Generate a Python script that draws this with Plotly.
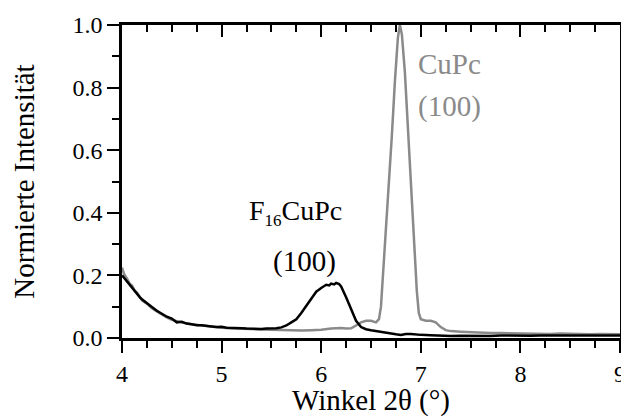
import plotly.graph_objects as go

# F16CuPc (black)
x_f16 = [4.00, 4.03, 4.05, 4.08, 4.10, 4.13, 4.15, 4.18, 4.20, 4.23, 4.25, 4.28, 4.30, 4.35, 4.40,
         4.45, 4.50, 4.55, 4.60, 4.65, 4.70, 4.75, 4.80, 4.85, 4.90, 4.95, 5.00, 5.05, 5.10,
         5.15, 5.20, 5.25, 5.30, 5.35, 5.40, 5.45, 5.50, 5.55, 5.60, 5.65, 5.70, 5.75, 5.80,
         5.85, 5.90, 5.95, 6.00, 6.03, 6.05, 6.08, 6.10, 6.13, 6.15, 6.18, 6.20, 6.25, 6.30,
         6.35, 6.40, 6.45, 6.50, 6.55, 6.60, 6.65, 6.70, 6.75, 6.80, 6.85, 6.90, 6.95, 7.00,
         7.10, 7.20, 7.30, 7.40, 7.50, 7.60, 7.70, 7.80, 7.90, 8.00, 8.10, 8.20, 8.30, 8.40,
         8.50, 8.60, 8.70, 8.80, 8.90, 9.00]
y_f16 = [0.200, 0.188, 0.182, 0.168, 0.162, 0.148, 0.142, 0.130, 0.124, 0.116, 0.110, 0.104, 0.099, 0.087, 0.078,
         0.068, 0.062, 0.050, 0.052, 0.046, 0.044, 0.041, 0.041, 0.038, 0.037, 0.035, 0.036, 0.033, 0.033,
         0.031, 0.031, 0.030, 0.029, 0.030, 0.029, 0.030, 0.030, 0.031, 0.034, 0.040, 0.050, 0.060, 0.080,
         0.103, 0.128, 0.148, 0.160, 0.166, 0.170, 0.168, 0.174, 0.171, 0.176, 0.172, 0.165, 0.130, 0.090,
         0.055, 0.035, 0.028, 0.025, 0.022, 0.020, 0.017, 0.015, 0.012, 0.010, 0.013, 0.013, 0.011, 0.010,
         0.009, 0.007, 0.006, 0.007, 0.006, 0.007, 0.006, 0.008, 0.007, 0.008, 0.007, 0.008, 0.008, 0.007,
         0.008, 0.009, 0.008, 0.008, 0.009, 0.008]

# CuPc (grey)
x_cupc = [4.00, 4.02, 4.05, 4.08, 4.10, 4.13, 4.15, 4.18, 4.20, 4.25, 4.30, 4.35, 4.40, 4.45, 4.50,
          4.55, 4.60, 4.65, 4.70, 4.75, 4.80, 4.85, 4.90, 4.95, 5.00, 5.10, 5.20, 5.30, 5.40,
          5.50, 5.60, 5.70, 5.80, 5.90, 6.00, 6.10, 6.20, 6.25, 6.30, 6.35, 6.40, 6.45, 6.50,
          6.55, 6.58, 6.60, 6.62, 6.65, 6.68, 6.71, 6.74, 6.77, 6.79, 6.81, 6.84, 6.87, 6.90,
          6.93, 6.96, 6.98, 7.00, 7.05, 7.10, 7.15, 7.20, 7.25, 7.30, 7.40, 7.50, 7.60, 7.70,
          7.80, 7.90, 8.00, 8.10, 8.20, 8.30, 8.40, 8.50, 8.60, 8.70, 8.80, 8.90, 9.00]
y_cupc = [0.225, 0.205, 0.190, 0.172, 0.168, 0.150, 0.145, 0.128, 0.120, 0.110, 0.095, 0.085, 0.075, 0.066, 0.058,
          0.054, 0.048, 0.046, 0.044, 0.042, 0.040, 0.038, 0.036, 0.035, 0.033, 0.031, 0.029, 0.027, 0.027,
          0.026, 0.025, 0.024, 0.024, 0.025, 0.026, 0.030, 0.032, 0.030, 0.031, 0.040, 0.050, 0.055, 0.055,
          0.050, 0.060, 0.100, 0.200, 0.330, 0.480, 0.650, 0.820, 0.960, 1.000, 0.970, 0.850, 0.680, 0.480,
          0.300, 0.150, 0.080, 0.060, 0.055, 0.055, 0.050, 0.035, 0.025, 0.022, 0.020, 0.018, 0.017, 0.016,
          0.016, 0.015, 0.015, 0.014, 0.014, 0.013, 0.014, 0.013, 0.013, 0.012, 0.013, 0.012, 0.012]

FONT = "Liberation Serif"
GREY = "#8a8a8a"

fig = go.Figure()
fig.add_trace(go.Scatter(x=x_cupc, y=y_cupc, mode="lines",
                         line=dict(color=GREY, width=2.5), showlegend=False))
fig.add_trace(go.Scatter(x=x_f16, y=y_f16, mode="lines",
                         line=dict(color="black", width=2.5), showlegend=False))
# Invisible trace so the top axis is drawn
fig.add_trace(go.Scatter(x=[4, 9], y=[None, None], xaxis="x2", mode="lines",
                         showlegend=False, hoverinfo="skip"))

fig.update_layout(
    width=621, height=409,
    margin=dict(l=114, r=9, t=17, b=79),
    paper_bgcolor="white", plot_bgcolor="white",
    font=dict(family=FONT, color="black", size=24),
    xaxis=dict(range=[4, 9], dtick=1, tick0=4, ticks="outside", ticklen=12, tickwidth=2,
               tickcolor="black", automargin=False, ticklabelstandoff=0,
               showline=True, linewidth=2.5, linecolor="black", showgrid=False, zeroline=False,
               minor=dict(dtick=0.25, ticks="outside", ticklen=7, tickwidth=2, tickcolor="black"),
               title=dict(text="Winkel 2θ (°)", font=dict(size=29), standoff=4)),
    xaxis2=dict(range=[4, 9], dtick=1, tick0=4, overlaying="x", side="top", ticks="inside",
                ticklen=12, tickwidth=2, tickcolor="black", showticklabels=False, showline=True,
                linewidth=2.5, linecolor="black", showgrid=False, zeroline=False, automargin=False,
                minor=dict(dtick=0.25, ticks="inside", ticklen=7, tickwidth=2, tickcolor="black")),
    yaxis=dict(range=[0, 1], dtick=0.2, tick0=0, ticks="outside", ticklen=12, tickwidth=2,
               tickcolor="black", automargin=False,
               tickformat=".1f", showline=True, linewidth=2.5, linecolor="black", mirror=True,
               showgrid=False, zeroline=False,
               minor=dict(dtick=0.1, ticks="outside", ticklen=7, tickwidth=2, tickcolor="black"),
               title=dict(text="Normierte Intensität", font=dict(size=29), standoff=32)),
)

fig.add_annotation(x=5.74, y=0.40, xref="x", yref="y",
                   text="F<sub><span style='font-size:17px'>16</span></sub>CuPc", showarrow=False,
                   font=dict(size=28, color="black"))
fig.add_annotation(x=5.83, y=0.245, xref="x", yref="y", text="(100)", showarrow=False,
                   font=dict(size=29, color="black"))
fig.add_annotation(x=6.95, y=0.875, xref="x", yref="y", text="CuPc", showarrow=False, xanchor="left",
                   font=dict(size=29, color=GREY))
fig.add_annotation(x=6.95, y=0.74, xref="x", yref="y", text="(100)", showarrow=False, xanchor="left",
                   font=dict(size=29, color=GREY))

fig.write_html("out.html")
